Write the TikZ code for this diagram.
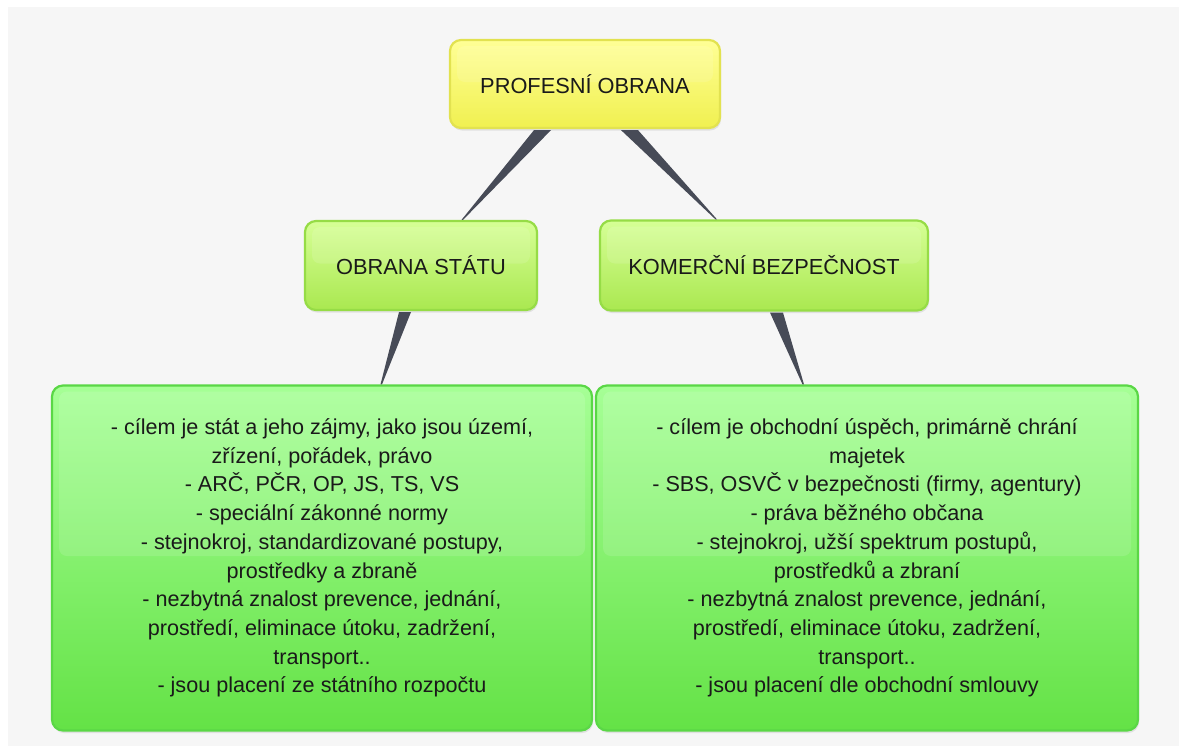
\documentclass[tikz,border=0pt]{standalone}
\usepackage{fontspec}
\setmainfont{Liberation Sans}
\usetikzlibrary{calc,shadows}
\definecolor{bgc}{HTML}{F6F6F6}
\definecolor{conncol}{HTML}{474B57}
\definecolor{txt}{HTML}{1A1A1A}
\begin{document}
\begin{tikzpicture}[x=1pt,y=-1pt,
  box/.style={rounded corners=11pt, line width=2.2pt, text=txt, align=center, inner sep=0pt,
    drop shadow={opacity=0.18, shadow xshift=1pt, shadow yshift=-2.5pt},
    path picture={\fill[white,opacity=0.12,rounded corners=8pt]
      ([xshift=7pt,yshift=-6pt]path picture bounding box.north west) rectangle
      ([xshift=-7pt,yshift=2pt]path picture bounding box.east);}},
  yellowbox/.style={box, draw={rgb,255:red,226;green,226;blue,80},
    top color={rgb,255:red,255;green,255;blue,150}, bottom color={rgb,255:red,240;green,240;blue,80},
    font=\fontsize{21.8}{26}\selectfont},
  midbox/.style={box, draw={rgb,255:red,150;green,220;blue,70},
    top color={rgb,255:red,214;green,255;blue,150}, bottom color={rgb,255:red,170;green,232;blue,80},
    font=\fontsize{21.8}{26}\selectfont},
  bigbox/.style={box, draw={rgb,255:red,90;green,215;blue,70},
    top color={rgb,255:red,166;green,255;blue,150}, bottom color={rgb,255:red,100;green,226;blue,70},
    font=\fontsize{21.6}{28.7}\selectfont},
  conn/.style={fill=conncol}
]
\useasboundingbox (0,0) rectangle (1179,753);
\fill[white] (0,0) rectangle (1179,753);
\fill[bgc] (8,7) rectangle (1179,746);

\node[yellowbox, minimum width=270pt, minimum height=88pt] (top) at (585,84) {PROFESNÍ OBRANA};
\node[midbox, minimum width=232pt, minimum height=89pt] (stat) at (421,265.5) {OBRANA STÁTU};
\node[midbox, minimum width=328pt, minimum height=90pt] (kom) at (764,265.5) {KOMERČNÍ BEZPEČNOST};
\node[bigbox, minimum width=540pt, minimum height=345pt] (lbox) at (322,558)
 {- cílem je stát a jeho zájmy, jako jsou území,\\
  zřízení, pořádek, právo\\
  - ARČ, PČR, OP, JS, TS, VS\\
  - speciální zákonné normy\\
  - stejnokroj, standardizované postupy,\\
  prostředky a zbraně\\
  - nezbytná znalost prevence, jednání,\\
  prostředí, eliminace útoku, zadržení,\\
  transport..\\
  - jsou placení ze státního rozpočtu};
\node[bigbox, minimum width=542pt, minimum height=345pt] (rbox) at (867,558)
 {- cílem je obchodní úspěch, primárně chrání\\
  majetek\\
  - SBS, OSVČ v bezpečnosti (firmy, agentury)\\
  - práva běžného občana\\
  - stejnokroj, užší spektrum postupů,\\
  prostředků a zbraní\\
  - nezbytná znalost prevence, jednání,\\
  prostředí, eliminace útoku, zadržení,\\
  transport..\\
  - jsou placení dle obchodní smlouvy};

% tapered connectors
\fill[conn] ($(top.south)+(-51,1)$) -- ($(top.south)+(-34,1)$) -- ($(stat.north)+(42,0)$) -- ($(stat.north)+(40.5,0)$) -- cycle;
\fill[conn] ($(top.south)+(36,1)$) -- ($(top.south)+(53,1)$) -- ($(kom.north)+(-47,0)$) -- ($(kom.north)+(-48.5,0)$) -- cycle;
\fill[conn] ($(stat.south)+(-22,1)$) -- ($(stat.south)+(-10,1)$) -- ($(lbox.north)+(60,0)$) -- ($(lbox.north)+(58.5,0)$) -- cycle;
\fill[conn] ($(kom.south)+(6,1)$) -- ($(kom.south)+(19,1)$) -- ($(rbox.north)+(-63,0)$) -- ($(rbox.north)+(-64.5,0)$) -- cycle;
\end{tikzpicture}
\end{document}
